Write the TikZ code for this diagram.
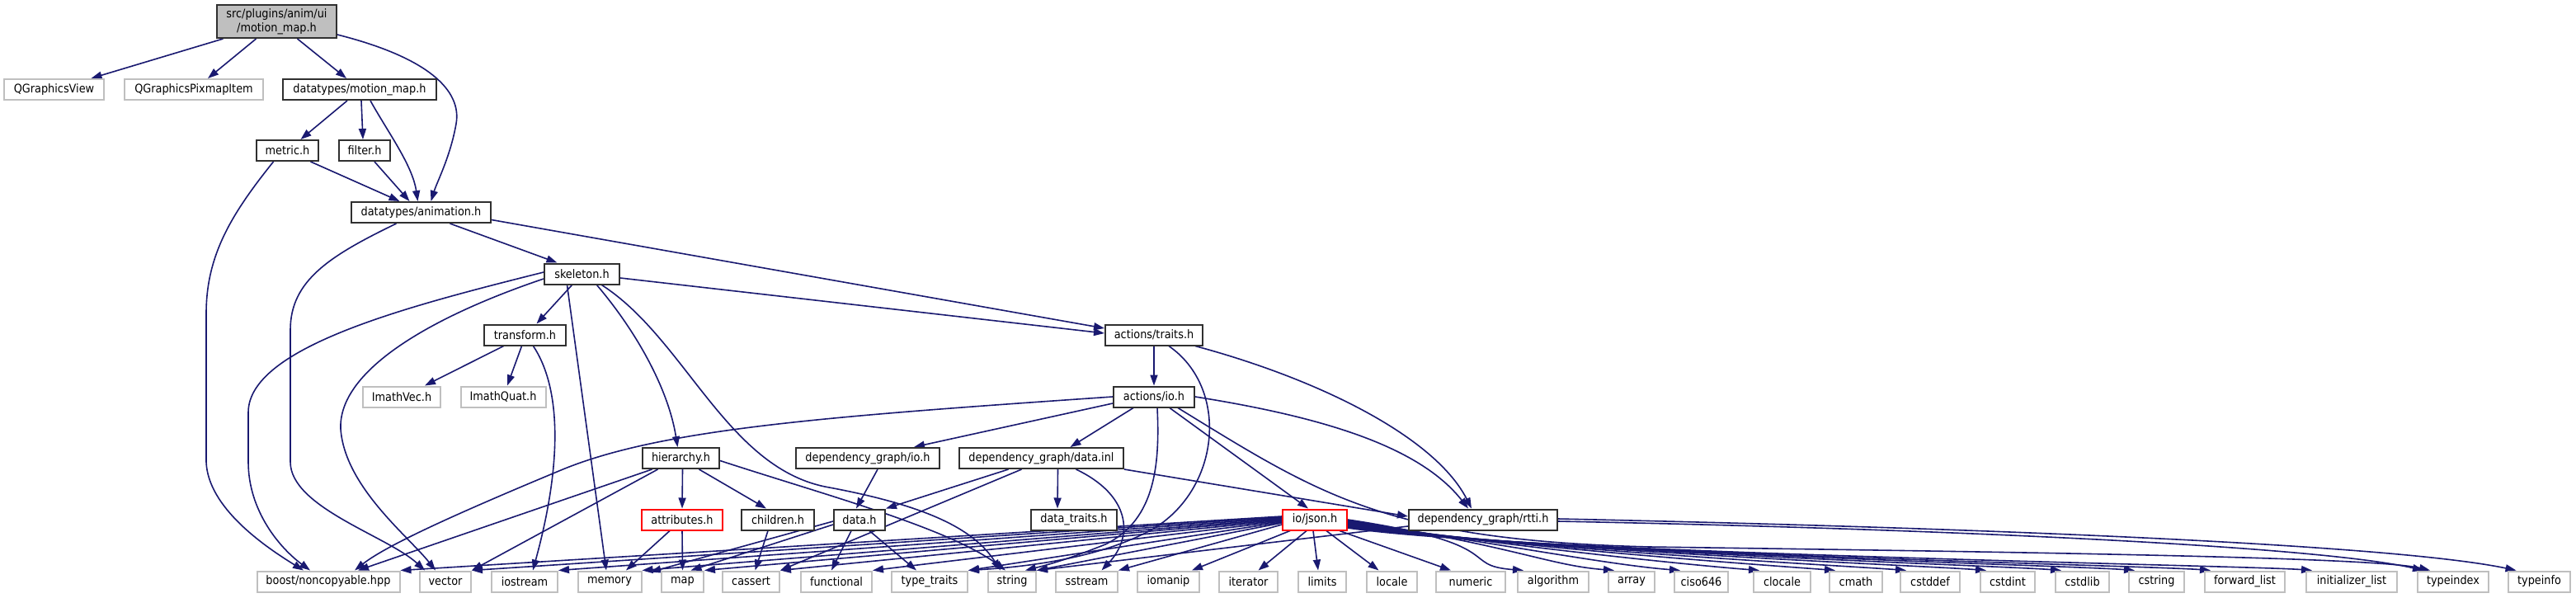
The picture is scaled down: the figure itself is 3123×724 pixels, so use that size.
\documentclass[tikz,border=0pt]{standalone}
\usepackage{fontspec}
\setmainfont{DejaVu Sans Condensed}
\usetikzlibrary{arrows.meta}
\definecolor{edgeblue}{HTML}{191970}
\definecolor{extgray}{HTML}{BFBFBF}
\definecolor{topfill}{HTML}{BFBFBF}
\definecolor{boxline}{HTML}{303030}
\pgfdeclarelayer{bg}
\pgfdeclarelayer{paper}
\pgfsetlayers{paper,bg,main}
\tikzset{
  box/.style={draw=boxline, line width=2pt, fill=white, minimum height=25pt, inner sep=0pt, font=\fontsize{14.3}{17}\selectfont, text=black},
  ext/.style={box, draw=extgray},
  trunc/.style={box, draw=red},
  edge/.style={draw=edgeblue, line width=1.6pt, -{Triangle[length=13pt,width=9pt]}},
}
\begin{document}
\begin{tikzpicture}[x=1pt,y=-1pt]
\useasboundingbox (0,0) rectangle (3123,724);
\begin{pgfonlayer}{paper}
\fill[white] (0,0) rectangle (3123,724);
\end{pgfonlayer}
% nodes
\node[box, fill=topfill, minimum width=145pt, minimum height=40pt, align=center] (T) at (335.5,26) {src/plugins/anim/ui\\/motion\_map.h};
\node[ext, minimum width=121pt] (qgv) at (65.5,108.5) {QGraphicsView};
\node[ext, minimum width=168pt] (qgpi) at (235,108.5) {QGraphicsPixmapItem};
\node[box, minimum width=186pt] (dmm) at (436,108.5) {datatypes/motion\_map.h};
\node[box, minimum width=75pt] (metric) at (348.5,182.5) {metric.h};
\node[box, minimum width=62pt] (filter) at (442,182.5) {filter.h};
\node[box, minimum width=169pt] (anim) at (510.5,257.5) {datatypes/animation.h};
\node[box, minimum width=91pt] (skel) at (705.5,332) {skeleton.h};
\node[box, minimum width=99pt] (transform) at (636.5,406) {transform.h};
\node[box, minimum width=118pt] (traits) at (1399,406) {actions/traits.h};
\node[ext, minimum width=94pt] (imvec) at (487,481) {ImathVec.h};
\node[ext, minimum width=103pt] (imquat) at (610,481) {ImathQuat.h};
\node[box, minimum width=98pt] (aio) at (1399,481) {actions/io.h};
\node[box, minimum width=93pt] (hier) at (825.5,555.5) {hierarchy.h};
\node[box, minimum width=174pt] (dgio) at (1052,555.5) {dependency\_graph/io.h};
\node[box, minimum width=199pt] (dgdata) at (1262.5,555.5) {dependency\_graph/data.inl};
\node[trunc, minimum width=98pt] (attr) at (827,630) {attributes.h};
\node[box, minimum width=88pt] (children) at (943,630) {children.h};
\node[box, minimum width=62pt] (datah) at (1042,630) {data.h};
\node[box, minimum width=104pt] (dtraits) at (1302,630) {data\_traits.h};
\node[trunc, minimum width=78pt] (json) at (1594,630) {io/json.h};
\node[box, minimum width=180pt] (rtti) at (1798,630) {dependency\_graph/rtti.h};
% bottom row
\node[ext, minimum width=173pt] (boost) at (398,705) {boost/noncopyable.hpp};
\node[ext, minimum width=62pt] (vector) at (540,705) {vector};
\node[ext, minimum width=80pt] (iostream) at (636,705) {iostream};
\node[ext, minimum width=77pt] (memory) at (739,705) {memory};
\node[ext, minimum width=51pt] (map) at (827.5,705) {map};
\node[ext, minimum width=69pt] (cassert) at (910.5,705) {cassert};
\node[ext, minimum width=86pt] (functional) at (1014,705) {functional};
\node[ext, minimum width=92pt] (typetraits) at (1127,705) {type\_traits};
\node[ext, minimum width=58pt] (string) at (1227,705) {string};
\node[ext, minimum width=75pt] (sstream) at (1317.5,705) {sstream};
\node[ext, minimum width=75pt] (iomanip) at (1416.5,705) {iomanip};
\node[ext, minimum width=71pt] (iterator) at (1513.5,705) {iterator};
\node[ext, minimum width=58pt] (limits) at (1603,705) {limits};
\node[ext, minimum width=61pt] (locale) at (1687.5,705) {locale};
\node[ext, minimum width=84pt] (numeric) at (1783,705) {numeric};
\node[ext, minimum width=86pt] (algorithm) at (1883,705) {algorithm};
\node[ext, minimum width=56pt] (array) at (1978,705) {array};
\node[ext, minimum width=65pt] (ciso) at (2062.5,705) {ciso646};
\node[ext, minimum width=69pt] (clocale) at (2160.5,705) {clocale};
\node[ext, minimum width=64pt] (cmath) at (2250,705) {cmath};
\node[ext, minimum width=72pt] (cstddef) at (2340,705) {cstddef};
\node[ext, minimum width=66pt] (cstdint) at (2434,705) {cstdint};
\node[ext, minimum width=65pt] (cstdlib) at (2524.5,705) {cstdlib};
\node[ext, minimum width=67pt] (cstring) at (2614.5,705) {cstring};
\node[ext, minimum width=97pt] (flist) at (2721.5,705) {forward\_list};
\node[ext, minimum width=110pt] (ilist) at (2851,705) {initializer\_list};
\node[ext, minimum width=86pt] (typeindex) at (2974,705) {typeindex};
\node[ext, minimum width=75pt] (typeinfo) at (3078.5,705) {typeinfo};

\begin{pgfonlayer}{bg}
% top
\draw[edge] ([xshift=-65pt]T.south) -- ([xshift=45pt]qgv.north);
\draw[edge] ([xshift=-25pt]T.south) -- ([xshift=17pt]qgpi.north);
\draw[edge] ([xshift=25pt]T.south) -- ([xshift=-16pt]dmm.north);
\draw[edge] ([yshift=-16pt]T.east) .. controls (520,70) and (560,110) .. (553,150) .. controls (546,190) and (530,220) .. ([xshift=12pt]anim.north);
% motion_map
\draw[edge] ([xshift=-15pt]dmm.south) -- ([xshift=16pt]metric.north);
\draw[edge] ([xshift=2pt]dmm.south) -- ([xshift=-2pt]filter.north);
\draw[edge] ([xshift=13pt]dmm.south) .. controls (470,160) and (500,200) .. ([xshift=-4pt]anim.north);
% metric, filter
\draw[edge] ([xshift=28pt]metric.south) -- ([xshift=-26pt]anim.north);
\draw[edge] ([xshift=12pt]filter.south) -- ([xshift=-14pt]anim.north);
\draw[edge] ([xshift=-17pt]metric.south) .. controls (280,260) and (250,310) .. (250,380) -- (250,560) .. controls (252,615) and (320,662) .. ([xshift=-30pt]boost.north);
% animation
\draw[edge] ([xshift=-30pt]anim.south) .. controls (400,310) and (352,340) .. (352,400) -- (352,560) .. controls (352,615) and (470,650) .. ([xshift=-25pt]vector.north);
\draw[edge] ([xshift=35pt]anim.south) -- ([xshift=-30pt]skel.north);
\draw[edge] ([yshift=-9pt]anim.east) -- ([yshift=8pt]traits.west);
% skeleton
\draw[edge] ([yshift=-5pt]skel.east) -- ([yshift=2pt]traits.west);
\draw[edge] ([xshift=-12pt]skel.south) -- ([xshift=14pt]transform.north);
\draw[edge] ([xshift=-18pt]skel.south) -- ([xshift=-4pt]memory.north);
\draw[edge] ([xshift=18pt]skel.south) .. controls (770,400) and (810,470) .. ([xshift=-4pt]hier.north);
\draw[edge] ([xshift=24pt]skel.south) .. controls (830,410) and (880,565) .. (1000,590) .. controls (1120,612) and (1180,640) .. ([xshift=-14pt]string.north);
\draw[edge] ([yshift=2pt]skel.west) .. controls (500,370) and (301,420) .. (301,500) -- (301,560) .. controls (301,620) and (340,665) .. ([xshift=-22pt]boost.north);
\draw[edge] ([yshift=-6pt]skel.west) .. controls (520,385) and (410,450) .. (413,520) .. controls (418,590) and (495,650) .. ([xshift=-12pt]vector.north);
% transform
\draw[edge] ([xshift=-26pt]transform.south) -- ([xshift=28pt]imvec.north);
\draw[edge] ([xshift=-4pt]transform.south) -- ([xshift=5pt]imquat.north);
\draw[edge] ([xshift=10pt]transform.south) .. controls (680,470) and (682,560) .. ([xshift=10pt]iostream.north);
% actions/traits
\draw[edge] (traits.south) -- (aio.north);
\draw[edge] ([xshift=50pt]traits.south) .. controls (1600,460) and (1740,530) .. ([xshift=-14pt]rtti.north);
\draw[edge] ([xshift=18pt]traits.south) .. controls (1490,470) and (1480,590) .. (1400,640) .. controls (1330,680) and (1230,688) .. (typetraits.north east);
% actions/io
\draw[edge] (aio.west) .. controls (1000,505) and (800,520) .. (680,570) .. controls (560,620) and (470,660) .. ([xshift=32pt]boost.north);
\draw[edge] ([yshift=-8pt]aio.west) -- ([xshift=56pt]dgio.north);
\draw[edge] ([xshift=-25pt]aio.south) -- ([xshift=35pt]dgdata.north);
\draw[edge] ([xshift=19pt]aio.south) -- ([xshift=-8pt]json.north);
\draw[edge] ([xshift=4pt]aio.south) .. controls (1406,560) and (1402,630) .. (1340,660) .. controls (1290,680) and (1265,686) .. ([xshift=16pt]string.north);
\draw[edge] (aio.east) .. controls (1600,505) and (1720,540) .. ([xshift=-18pt]rtti.north);
\draw[edge] ([xshift=29pt]aio.south) .. controls (1600,600) and (1680,655) .. (2000,663) .. controls (2500,670) and (2880,676) .. ([xshift=-28pt]typeindex.north);
% hierarchy
\draw[edge] ([xshift=2pt]hier.south) -- ([xshift=0pt]attr.north);
\draw[edge] ([xshift=22pt]hier.south) -- ([xshift=-14pt]children.north);
\draw[edge] ([xshift=-35pt]hier.south) -- ([xshift=36pt]boost.north);
\draw[edge] ([xshift=-28pt]hier.south) -- (vector.north east);
\draw[edge] ([yshift=-3pt]hier.east) .. controls (1000,600) and (1150,640) .. ([xshift=-8pt]string.north);
% attributes, children
\draw[edge] ([xshift=-15pt]attr.south) -- ([xshift=20pt]memory.north);
\draw[edge] (attr.south) -- (map.north);
\draw[edge] ([xshift=-12pt]children.south) -- ([xshift=5pt]cassert.north);
% data.h
\draw[edge] ([yshift=-2pt]datah.west) -- ([xshift=10pt,yshift=-2pt]memory.north east);
\draw[edge] ([yshift=-6pt]datah.west) -- ([xshift=10pt]map.north);
\draw[edge] ([xshift=-10pt]datah.south) -- ([xshift=-6pt]functional.north);
\draw[edge] ([xshift=12pt]datah.south) -- ([xshift=-16pt]typetraits.north);
% dependency_graph/io.h
\draw[edge] ([xshift=12pt]dgio.south) -- ([xshift=-4pt]datah.north);
% data.inl
\draw[edge] ([xshift=-40pt]dgdata.south) -- (datah.north east);
\draw[edge] ([xshift=-24pt]dgdata.south) -- (cassert.north east);
\draw[edge] ([xshift=20pt]dgdata.south) -- ([xshift=-20pt]dtraits.north);
\draw[edge] ([xshift=42pt]dgdata.south) .. controls (1370,600) and (1375,650) .. ([xshift=18pt]sstream.north);
\draw[edge] (dgdata.south east) -- ([yshift=4pt]rtti.west);
% rtti
\draw[edge] ([yshift=-8pt]rtti.west) -- (string.north east);
\draw[edge] ([yshift=-2pt]rtti.east) .. controls (2300,640) and (2800,660) .. ([xshift=-36pt]typeindex.north);
\draw[edge] ([yshift=1pt]rtti.east) .. controls (2400,640) and (2900,660) .. ([xshift=-28pt]typeinfo.north);
% io/json.h
\foreach \t/\s in {boost/4,vector/3,iostream/2,memory/1,map/0,cassert/-1,functional/-2,typetraits/-3,string/-4,sstream/-6}
  \draw[edge] ([yshift=\s pt]json.west) -- (\t.north east);
\draw[edge] ([xshift=-30pt]json.south) -- ([xshift=-10pt]iomanip.north east);
\draw[edge] ([xshift=-10pt]json.south) -- ([xshift=12pt]iterator.north);
\draw[edge] ([xshift=-2pt]json.south) -- ([xshift=-5pt]limits.north);
\draw[edge] ([xshift=14pt]json.south) -- ([xshift=-16pt]locale.north);
\draw[edge] ([xshift=30pt]json.south) -- ([xshift=-24pt]numeric.north);
\foreach \t/\s in {algorithm/0,array/-1,ciso/-2,clocale/-3,cmath/-4,cstddef/-5,cstdint/-6,cstdlib/-7,cstring/-8,flist/-9,ilist/-10}
  \draw[edge] ([yshift=\s pt]json.east) .. controls +(200pt,-30pt) and +(-80pt,6pt) .. ([xshift=8pt]\t.north west);
\end{pgfonlayer}
\end{tikzpicture}
\end{document}
